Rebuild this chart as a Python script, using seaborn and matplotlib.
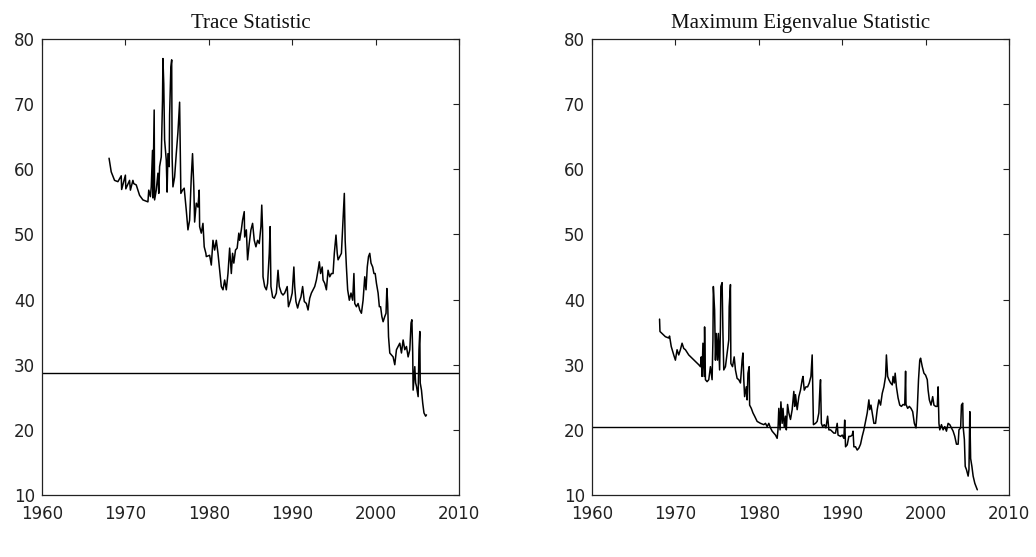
import matplotlib
matplotlib.use("Agg")
import matplotlib.pyplot as plt
import seaborn as sns
import pandas as pd

# ---- data ----
trace_t = [1968.04, 1968.3, 1968.7, 1969.1, 1969.5, 1969.55, 1970.0, 1970.05, 1970.5, 1970.6,
           1970.9, 1971.0, 1971.3, 1971.7, 1972.1, 1972.5, 1972.7, 1972.8, 1973.0, 1973.1,
           1973.25, 1973.3, 1973.45, 1973.5, 1973.7, 1973.9, 1974.0, 1974.1, 1974.3, 1974.45,
           1974.5, 1974.6, 1974.7, 1974.9, 1975.0, 1975.1, 1975.25, 1975.3, 1975.45, 1975.55,
           1975.6, 1975.7, 1975.9, 1976.1, 1976.3, 1976.45, 1976.5, 1976.65, 1976.85, 1977.05,
           1977.15, 1977.3, 1977.5, 1977.7, 1977.9, 1978.05, 1978.2, 1978.3, 1978.5, 1978.7,
           1978.85, 1978.9, 1979.1, 1979.3, 1979.45, 1979.65, 1979.7, 1980.1, 1980.3, 1980.5,
           1980.7, 1980.9, 1981.1, 1981.3, 1981.5, 1981.7, 1981.9, 1982.1, 1982.3, 1982.5,
           1982.7, 1982.85, 1983.0, 1983.2, 1983.4, 1983.6, 1983.7, 1983.9, 1984.05, 1984.25,
           1984.3, 1984.5, 1984.65, 1984.85, 1985.05, 1985.25, 1985.45, 1985.65, 1985.85, 1986.05,
           1986.25, 1986.35, 1986.45, 1986.5, 1986.7, 1986.9, 1987.05, 1987.25, 1987.35, 1987.45,
           1987.65, 1987.85, 1988.1, 1988.3, 1988.45, 1988.7, 1988.9, 1989.1, 1989.4, 1989.55,
           1989.8, 1990.0, 1990.2, 1990.3, 1990.45, 1990.65, 1990.85, 1991.05, 1991.25, 1991.45,
           1991.7, 1991.9, 1992.1, 1992.3, 1992.5, 1992.7, 1992.9, 1993.1, 1993.25, 1993.4,
           1993.6, 1993.7, 1993.9, 1994.1, 1994.3, 1994.5, 1994.7, 1994.9, 1995.05, 1995.25,
           1995.4, 1995.5, 1995.7, 1995.9, 1996.1, 1996.25, 1996.35, 1996.5, 1996.65, 1996.85,
           1997.05, 1997.25, 1997.4, 1997.5, 1997.7, 1997.9, 1998.1, 1998.3, 1998.5, 1998.7,
           1998.85, 1999.0, 1999.15, 1999.3, 1999.45, 1999.65, 1999.8, 1999.95, 2000.1, 2000.3,
           2000.45, 2000.6, 2000.75, 2000.9, 2001.1, 2001.25, 2001.35, 2001.45, 2001.55, 2001.7,
           2001.9, 2002.1, 2002.3, 2002.5, 2002.7, 2002.9, 2003.1, 2003.3, 2003.5, 2003.7,
           2003.9, 2004.1, 2004.25, 2004.35, 2004.45, 2004.5, 2004.7, 2004.8, 2004.9, 2005.1,
           2005.2, 2005.3, 2005.35, 2005.5, 2005.65, 2005.8, 2006.0, 2006.1]
trace_v = [61.7, 59.6, 58.3, 58.1, 59.0, 56.9, 59.1, 57.0, 58.3, 56.8,
           58.3, 57.8, 57.6, 56.0, 55.3, 55.1, 55.0, 56.8, 55.8, 57.3,
           62.9, 55.6, 69.1, 55.3, 56.8, 59.4, 56.3, 60.4, 61.9, 70.6,
           77.0, 73.1, 64.5, 61.4, 56.5, 62.4, 60.4, 68.3, 75.7, 76.8,
           61.9, 57.3, 58.8, 62.4, 65.7, 69.1, 70.3, 56.3, 56.8, 57.1,
           55.8, 53.7, 50.7, 52.2, 58.8, 62.4, 57.3, 51.9, 54.8, 54.2,
           56.8, 51.2, 50.2, 51.7, 48.1, 47.1, 46.6, 46.8, 45.3, 49.1,
           47.6, 49.1, 47.1, 44.5, 42.0, 41.5, 43.0, 41.5, 44.0, 47.9,
           44.0, 47.1, 45.6, 47.6, 47.9, 50.2, 49.1, 50.7, 52.2, 53.5,
           49.6, 50.7, 46.1, 48.6, 50.7, 51.7, 49.1, 48.1, 49.1, 48.6,
           51.2, 54.5, 50.7, 43.5, 42.0, 41.5, 42.5, 47.1, 51.2, 42.0,
           40.4, 40.2, 41.0, 44.5, 42.0, 41.0, 40.7, 41.0, 42.0, 38.9,
           39.9, 41.0, 45.0, 42.0, 39.7, 38.7, 39.7, 40.4, 42.0, 39.7,
           39.4, 38.4, 40.2, 41.0, 41.5, 42.0, 43.0, 44.5, 45.8, 44.0,
           45.0, 43.0, 42.5, 41.5, 44.5, 43.5, 44.0, 44.0, 47.1, 49.9,
           47.1, 46.1, 46.6, 47.1, 52.2, 56.3, 49.1, 45.0, 41.5, 39.9,
           41.0, 39.9, 44.0, 39.4, 38.9, 39.4, 38.4, 37.9, 39.9, 43.5,
           41.5, 45.0, 46.6, 47.1, 45.6, 45.0, 44.0, 44.0, 42.5, 41.0,
           38.9, 38.9, 37.4, 36.6, 37.4, 37.9, 41.7, 39.4, 34.3, 31.8,
           31.5, 31.2, 30.0, 32.3, 32.8, 33.3, 31.8, 33.8, 32.3, 32.8,
           31.2, 32.3, 36.4, 36.9, 31.8, 26.1, 29.7, 27.2, 26.7, 25.1,
           32.3, 35.1, 27.2, 26.1, 24.1, 22.6, 22.1, 22.3]

maxeig_t = [1968.1, 1968.15, 1968.4, 1968.8, 1969.2, 1969.3, 1969.5, 1969.8, 1970.0, 1970.2,
            1970.4, 1970.6, 1970.8, 1971.0, 1971.2, 1971.6, 1972.0, 1972.4, 1972.8, 1973.0,
            1973.1, 1973.2, 1973.3, 1973.45, 1973.5, 1973.6, 1973.8, 1974.0, 1974.2, 1974.4,
            1974.5, 1974.55, 1974.7, 1974.8, 1974.9, 1975.05, 1975.15, 1975.3, 1975.4, 1975.45,
            1975.6, 1975.7, 1975.8, 1976.0, 1976.2, 1976.4, 1976.45, 1976.6, 1976.65, 1976.85,
            1977.05, 1977.2, 1977.4, 1977.6, 1977.8, 1978.0, 1978.1, 1978.2, 1978.3, 1978.5,
            1978.6, 1978.7, 1978.85, 1978.9, 1979.1, 1979.3, 1979.5, 1979.8, 1980.2, 1980.6,
            1980.8, 1981.0, 1981.2, 1981.4, 1981.6, 1981.8, 1982.0, 1982.2, 1982.3, 1982.4,
            1982.55, 1982.65, 1982.8, 1982.9, 1983.05, 1983.2, 1983.3, 1983.45, 1983.6, 1983.8,
            1984.0, 1984.2, 1984.3, 1984.4, 1984.6, 1984.8, 1985.0, 1985.2, 1985.3, 1985.45,
            1985.65, 1985.85, 1986.05, 1986.25, 1986.4, 1986.45, 1986.55, 1986.8, 1987.0, 1987.2,
            1987.3, 1987.4, 1987.5, 1987.65, 1987.85, 1988.05, 1988.25, 1988.4, 1988.6, 1989.0,
            1989.2, 1989.4, 1989.5, 1989.8, 1990.0, 1990.2, 1990.3, 1990.4, 1990.6, 1990.8,
            1991.0, 1991.2, 1991.3, 1991.4, 1991.6, 1991.8, 1992.0, 1992.2, 1992.4, 1992.6,
            1992.8, 1993.0, 1993.2, 1993.3, 1993.45, 1993.6, 1993.8, 1994.0, 1994.2, 1994.4,
            1994.6, 1994.8, 1995.0, 1995.2, 1995.3, 1995.45, 1995.6, 1995.8, 1996.0, 1996.1,
            1996.25, 1996.35, 1996.5, 1996.7, 1996.9, 1997.1, 1997.3, 1997.5, 1997.6, 1997.65,
            1997.85, 1998.05, 1998.25, 1998.45, 1998.65, 1998.85, 1999.0, 1999.15, 1999.3, 1999.4,
            1999.6, 1999.8, 2000.0, 2000.2, 2000.3, 2000.45, 2000.65, 2000.85, 2001.0, 2001.2,
            2001.4, 2001.5, 2001.6, 2001.7, 2001.9, 2002.1, 2002.3, 2002.5, 2002.7, 2002.9,
            2003.1, 2003.3, 2003.5, 2003.7, 2003.9, 2004.0, 2004.2, 2004.3, 2004.45, 2004.5,
            2004.65, 2004.75, 2004.9, 2005.1, 2005.2, 2005.3, 2005.4, 2005.55, 2005.7, 2005.9,
            2006.2]
maxeig_v = [37.0, 35.1, 34.8, 34.3, 34.1, 34.4, 32.8, 31.5, 30.7, 32.3,
            31.5, 32.3, 33.3, 32.5, 32.3, 31.5, 31.0, 30.5, 30.0, 29.7,
            31.2, 28.2, 33.3, 28.2, 35.8, 27.7, 27.4, 27.7, 29.7, 27.7,
            33.8, 42.0, 38.4, 30.7, 34.8, 30.7, 34.8, 29.2, 35.8, 42.0,
            42.6, 34.8, 29.2, 29.7, 31.8, 33.8, 38.9, 42.3, 30.2, 29.7,
            31.2, 29.2, 27.9, 27.7, 27.2, 30.7, 31.8, 27.7, 25.1, 26.6,
            24.6, 28.7, 29.7, 23.8, 23.3, 22.6, 22.1, 21.3, 21.0, 20.8,
            21.0, 20.5, 21.0, 20.3, 19.8, 19.5, 19.2, 18.7, 20.0, 23.3,
            20.0, 24.3, 21.0, 23.3, 20.5, 22.1, 20.0, 23.9, 22.6, 21.6,
            23.1, 25.9, 23.6, 25.4, 23.1, 25.1, 26.1, 27.7, 28.2, 26.1,
            26.6, 26.6, 27.2, 28.2, 31.5, 28.2, 20.8, 21.0, 21.3, 22.6,
            25.6, 27.7, 21.0, 20.5, 20.8, 20.3, 22.1, 20.0, 20.0, 19.5,
            19.5, 21.0, 19.2, 19.0, 19.2, 18.7, 21.5, 17.4, 17.7, 19.0,
            19.0, 19.2, 19.8, 17.4, 17.4, 16.9, 17.2, 17.8, 19.0, 20.0,
            21.3, 22.6, 24.6, 23.1, 23.8, 22.6, 21.0, 21.0, 23.1, 24.6,
            23.8, 25.6, 26.6, 28.2, 31.5, 28.2, 27.7, 27.2, 26.9, 28.2,
            27.2, 28.7, 26.6, 24.9, 23.8, 23.6, 23.9, 23.8, 29.0, 23.9,
            23.3, 23.6, 23.3, 22.8, 21.0, 20.3, 23.1, 27.7, 30.7, 31.0,
            29.7, 28.7, 28.4, 27.7, 26.1, 24.6, 23.8, 25.1, 23.8, 23.6,
            23.6, 26.6, 21.0, 20.0, 20.8, 20.0, 20.5, 19.8, 21.0, 20.8,
            20.3, 19.8, 19.0, 17.8, 17.8, 20.0, 20.3, 23.8, 24.1, 20.5,
            18.5, 14.4, 13.9, 12.9, 13.9, 22.8, 15.6, 14.4, 12.9, 11.8,
            10.8]

trace_crit = 28.7
maxeig_crit = 20.4

titles = ["Trace Statistic", "Maximum Eigenvalue Statistic"]
xticks = [1960, 1970, 1980, 1990, 2000, 2010]
yticks = [10, 20, 30, 40, 50, 60, 70, 80]

# ---- figure ----
sns.set_style("white")
plt.rcParams["font.family"] = ["DejaVu Sans"]

fig = plt.figure(figsize=(10.36, 5.57), dpi=100)
ax1 = fig.add_axes([42 / 1036, 1 - 495 / 557, 417 / 1036, 456 / 557])
ax2 = fig.add_axes([592 / 1036, 1 - 495 / 557, 417 / 1036, 456 / 557])

panels = [
    (ax1, trace_t, trace_v, trace_crit, titles[0]),
    (ax2, maxeig_t, maxeig_v, maxeig_crit, titles[1]),
]

for ax, t, v, crit, title in panels:
    df = pd.DataFrame({"year": t, "stat": v})
    sns.lineplot(data=df, x="year", y="stat", ax=ax, color="black",
                 linewidth=1.1, estimator=None, sort=False)
    ax.axhline(crit, color="black", linewidth=1.0)
    ax.set_xlim(1960, 2010)
    ax.set_ylim(10, 80)
    ax.set_xticks(xticks)
    ax.set_yticks(yticks)
    ax.set_xlabel("")
    ax.set_ylabel("")
    ax.tick_params(direction="in", length=4.5, width=0.8, top=True, right=True,
                   labelsize=12, colors="#222222", pad=5)
    ax.tick_params(axis="x", pad=7)
    for s in ax.spines.values():
        s.set_visible(True)
        s.set_color("#222222")
        s.set_linewidth(0.9)
    ax.set_title(title, fontfamily="Liberation Serif", fontsize=15, pad=8,
                 color="#111111")

fig.savefig("out.png", dpi=100, facecolor="white")
